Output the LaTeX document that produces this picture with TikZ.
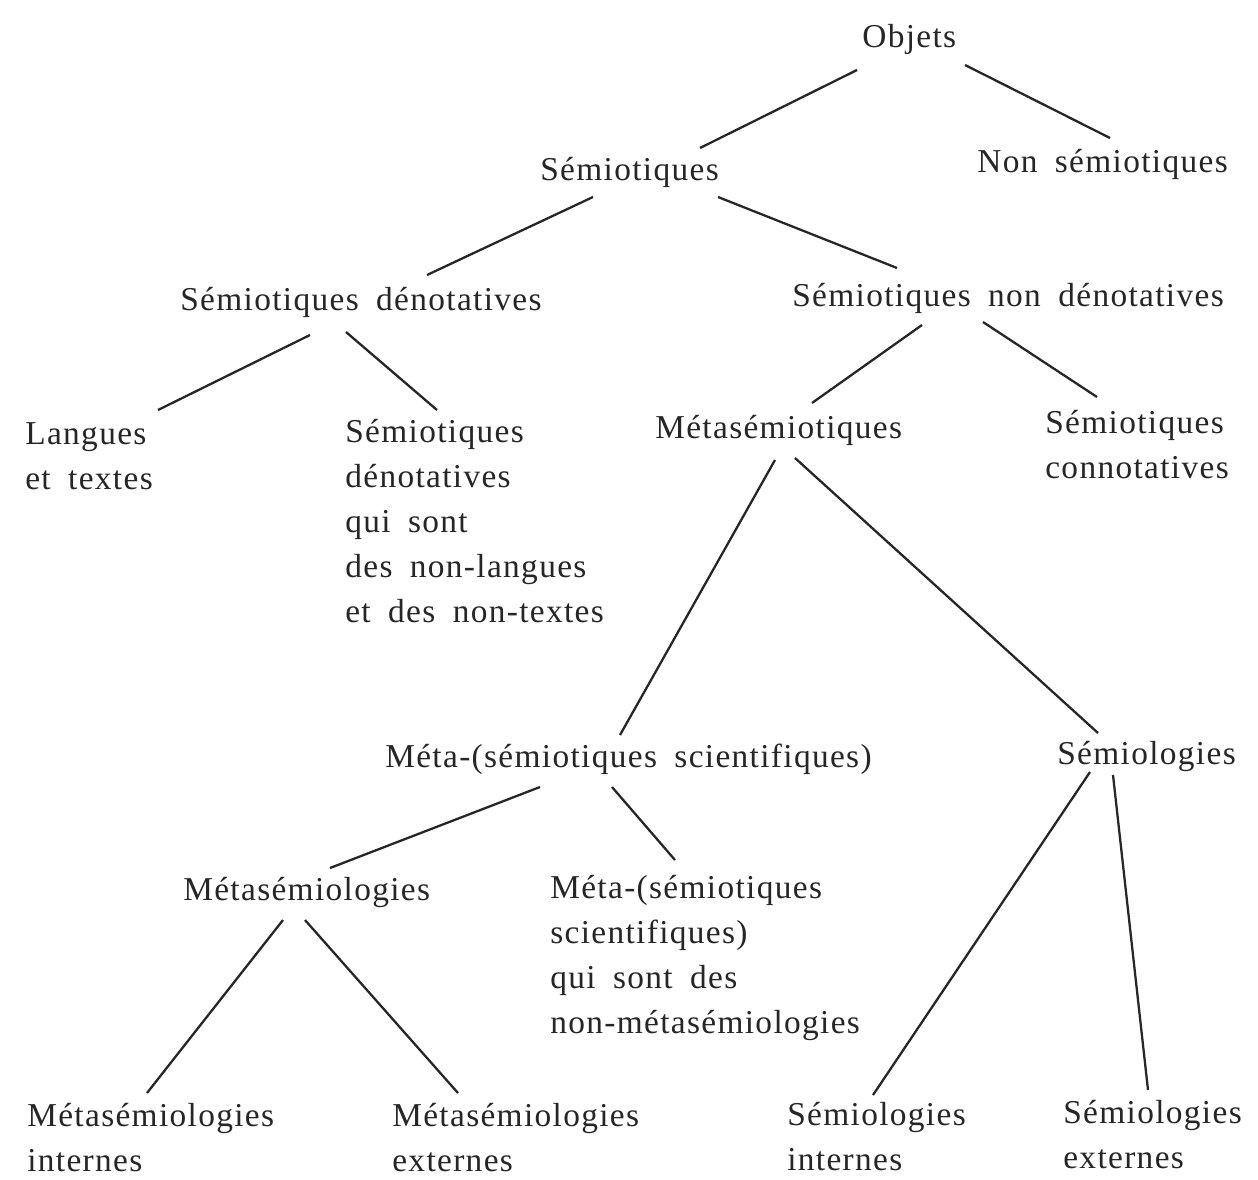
\documentclass[tikz,border=0pt]{standalone}
\usepackage{fontspec}
\setmainfont{Liberation Serif}[LetterSpace=4,WordSpace=1.8]
\usetikzlibrary{calc}
\tikzset{
  lbl/.style={anchor=base west,inner sep=0pt,align=left,font=\fontsize{19}{25.6}\selectfont,text=black!85},
  edge/.style={line width=1.3pt,black!85}
}
\begin{document}
\begin{tikzpicture}[x=0.02cm,y=-0.02cm]
\useasboundingbox[fill=white] (0,0) rectangle (1258,1180);
\node[lbl] (objets) at (862,47) {Objets};
\node[lbl] (nonsem) at (977,172) {Non sémiotiques};
\node[lbl] (sem) at (540,180) {Sémiotiques};
\node[lbl] (semden) at (180,310) {Sémiotiques dénotatives};
\node[lbl] (semnonden) at (792,306) {Sémiotiques non dénotatives};
\node[lbl] (langues) at (25,489) {Langues\\et textes};
\node[lbl] (semdenq) at (345,622) {Sémiotiques\\dénotatives\\qui sont\\des non-langues\\et des non-textes};
\node[lbl] (metasem) at (655,438) {Métasémiotiques};
\node[lbl] (semconn) at (1045,478) {Sémiotiques\\connotatives};
\node[lbl] (metasci) at (385,767) {Méta-(sémiotiques scientifiques)};
\node[lbl] (semiol) at (1057,764) {Sémiologies};
\node[lbl] (metasemiol) at (183,900) {Métasémiologies};
\node[lbl] (metasciq) at (550,1033) {Méta-(sémiotiques\\scientifiques)\\qui sont des\\non-métasémiologies};
\node[lbl] (msint) at (27,1171) {Métasémiologies\\internes};
\node[lbl] (msext) at (392,1171) {Métasémiologies\\externes};
\node[lbl] (sint) at (787,1170) {Sémiologies\\internes};
\node[lbl] (sext) at (1063,1168) {Sémiologies\\externes};
\draw[edge] ($(objets.base west)+(-5,23)$) -- ($(sem.base west)+(160,-32)$);
\draw[edge] ($(objets.base west)+(103,18)$) -- ($(nonsem.base west)+(133,-34)$);
\draw[edge] ($(sem.base west)+(53,17)$) -- ($(semden.base west)+(247,-35)$);
\draw[edge] ($(sem.base west)+(178,17)$) -- ($(semnonden.base west)+(105,-38)$);
\draw[edge] ($(semden.base west)+(130,25)$) -- ($(langues.base west)+(133,-79)$);
\draw[edge] ($(semden.base west)+(166,22)$) -- ($(semdenq.base west)+(92,-212)$);
\draw[edge] ($(semnonden.base west)+(130,19)$) -- ($(metasem.base west)+(157,-35)$);
\draw[edge] ($(semnonden.base west)+(191,16)$) -- ($(semconn.base west)+(52,-81)$);
\draw[edge] ($(metasem.base west)+(120,22)$) -- ($(metasci.base west)+(235,-32)$);
\draw[edge] ($(metasem.base west)+(140,20)$) -- ($(semiol.base west)+(41,-31)$);
\draw[edge] ($(metasci.base west)+(155,20)$) -- ($(metasemiol.base west)+(147,-32)$);
\draw[edge] ($(metasci.base west)+(227,20)$) -- ($(metasciq.base west)+(125,-173)$);
\draw[edge] ($(metasemiol.base west)+(100,20)$) -- ($(msint.base west)+(120,-78)$);
\draw[edge] ($(metasemiol.base west)+(122,20)$) -- ($(msext.base west)+(66,-78)$);
\draw[edge] ($(semiol.base west)+(33,8)$) -- ($(sint.base west)+(86,-75)$);
\draw[edge] ($(semiol.base west)+(56,11)$) -- ($(sext.base west)+(85,-78)$);
\end{tikzpicture}
\end{document}
